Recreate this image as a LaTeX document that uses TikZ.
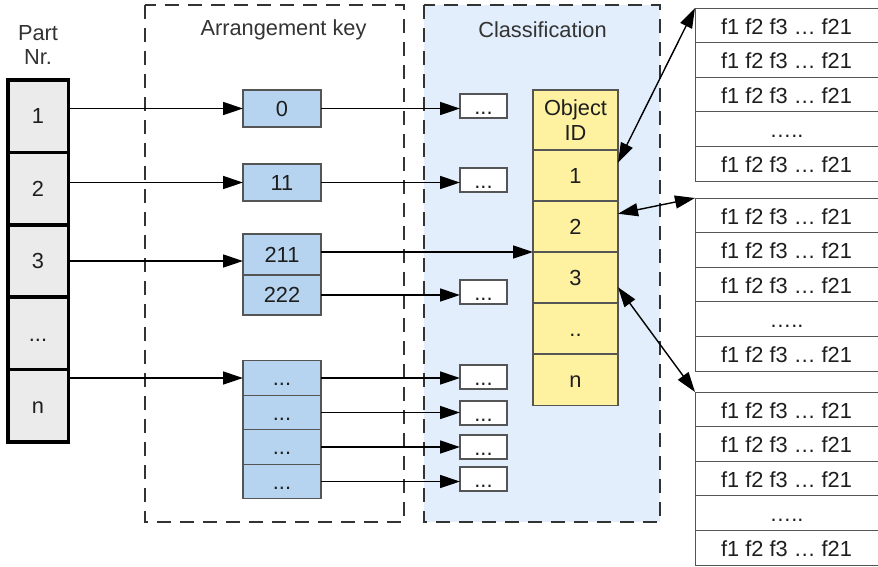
\documentclass[tikz,border=0pt]{standalone}
\usepackage{fontspec}
\setmainfont{Liberation Sans}
\usetikzlibrary{arrows.meta,calc}
\definecolor{partgray}{HTML}{EBEBEB}
\definecolor{keyblue}{HTML}{B6D4F0}
\definecolor{classbg}{HTML}{E2EEFB}
\definecolor{idyellow}{HTML}{FEF2A0}
\definecolor{edgegray}{HTML}{555555}
\definecolor{dashgray}{HTML}{333333}
\definecolor{txt}{HTML}{1E1E1E}
\begin{document}
\begin{tikzpicture}[x=1pt,y=-1pt,
  font=\fontsize{21.8}{24.5}\selectfont, text=txt,
  box/.style={rectangle, inner sep=0pt, outer sep=0pt, anchor=center},
  cell/.style={box, text height=17.5pt, text depth=2.1pt},
  partcell/.style={cell, draw=black, line width=3.5pt, fill=partgray,
    minimum width=60.5pt, minimum height=72.4pt},
  keycell/.style={cell, draw=edgegray, line width=1.2pt, fill=keyblue,
    minimum width=78pt},
  slot/.style={cell, draw=edgegray, line width=1.2pt, fill=white,
    minimum width=47pt, minimum height=24pt, text depth=0.5pt},
  idfill/.style={draw=edgegray, line width=1.2pt, fill=idyellow,
    minimum width=85pt, minimum height=51pt},
  idcell/.style={cell, idfill},
  idhead/.style={box, idfill, align=center},
  trow/.style={cell, draw=edgegray, line width=1pt, fill=white,
    minimum width=183pt, minimum height=34.6pt, text depth=0pt},
  group/.style={draw=dashgray, line width=1.2pt, dash pattern=on 14pt off 9pt},
  link/.style={draw=black, line width=1.4pt,
    -{Triangle[length=20pt,width=13pt]}},
  duplex/.style={draw=black, line width=1.4pt,
    {Triangle[length=20pt,width=13pt]}-{Triangle[length=20pt,width=13pt]}},
  title/.style={align=center, text=dashgray}
]
\useasboundingbox (0,0) rectangle (878,566);

% group frames
\fill[classbg] (424,5) rectangle (660,522);
\draw[group] (145,5) rectangle (404,522);
\draw[group] (424,5) rectangle (660,522);

% headings
\node[title] (hpart) at (38,45) {Part\\Nr.};
\node[title] (hkey) at (283.5,30) {Arrangement key};
\node[title] (hclass) at (542.5,30) {Classification};

% part numbers
\node[partcell] (p1) at (38,116.2) {1};
\node[partcell] (p2) at (38,188.6) {2};
\node[partcell] (p3) at (38,261.0) {3};
\node[partcell] (p4) at (38,333.4) {...};
\node[partcell] (p5) at (38,405.8) {n};

% arrangement keys
\node[keycell, minimum height=37pt] (b0)   at (282,108.5) {0};
\node[keycell, minimum height=37pt] (b11)  at (282,182.5) {11};
\node[keycell, minimum height=41pt] (b211) at (282,254.5) {211};
\node[keycell, minimum height=40pt] (b222) at (282,295)   {222};
\node[keycell, minimum height=34.5pt] (bd1) at (282,378)   {...};
\node[keycell, minimum height=34.5pt] (bd2) at (282,412.5) {...};
\node[keycell, minimum height=34.5pt] (bd3) at (282,447)   {...};
\node[keycell, minimum height=34.5pt] (bd4) at (282,481.5) {...};

% classification slots
\node[slot] (w0)   at (483.5,106) {...};
\node[slot] (w11)  at (483.5,180) {...};
\node[slot] (w222) at (483.5,292) {...};
\node[slot] (wd1)  at (483.5,377) {...};
\node[slot] (wd2)  at (483.5,413) {...};
\node[slot] (wd3)  at (483.5,447) {...};
\node[slot] (wd4)  at (483.5,479) {...};

% object id column
\node[idhead, minimum height=60pt] (oid) at (575.5,120) {Object\\ID};
\node[idcell] (c1) at (575.5,175.5) {1};
\node[idcell] (c2) at (575.5,226.5) {2};
\node[idcell] (c3) at (575.5,277.5) {3};
\node[idcell] (c4) at (575.5,328.5) {..};
\node[idcell] (c5) at (575.5,380) {n};

% feature tables
\foreach \t/\top in {1/8,2/198,3/392}{
  \foreach \r/\txt in {1/{f1 f2 f3 … f21},2/{f1 f2 f3 … f21},3/{f1 f2 f3 … f21},4/{…..},5/{f1 f2 f3 … f21}}{
    \node[trow] (t\t r\r) at (786.5,{\top+(\r-0.5)*34.6}) {\txt};
  }
}

% part number -> arrangement key
\draw[link] (p1.east |- b0.west) -- (b0.west);
\draw[link] (p2.east |- b11.west) -- (b11.west);
\draw[link] (p3.east) -- (p3.east -| b211.west);
\draw[link] (p5.east |- bd1.west) -- (bd1.west);

% arrangement key -> classification
\draw[link] (b0.east) -- (b0.east -| w0.west);
\draw[link] (b11.east) -- (b11.east -| w11.west);
\draw[link] (b211.east |- c3.north west) -- (c3.north west);
\draw[link] (b222.east) -- (b222.east -| w222.west);
\draw[link] (bd1.east) -- (bd1.east -| wd1.west);
\draw[link] (bd2.east) -- (bd2.east -| wd2.west);
\draw[link] (bd3.east) -- (bd3.east -| wd3.west);
\draw[link] (bd4.east) -- (bd4.east -| wd4.west);

% object id <-> feature tables
\draw[duplex] ($(c1.north east)!0.25!(c1.south east)$) -- (t1r1.north west);
\draw[duplex] ($(c2.north east)!0.25!(c2.south east)$) -- (t2r1.north west);
\draw[duplex] ($(c3.north east)!0.69!(c3.south east)$) -- (t3r1.north west);
\end{tikzpicture}
\end{document}
